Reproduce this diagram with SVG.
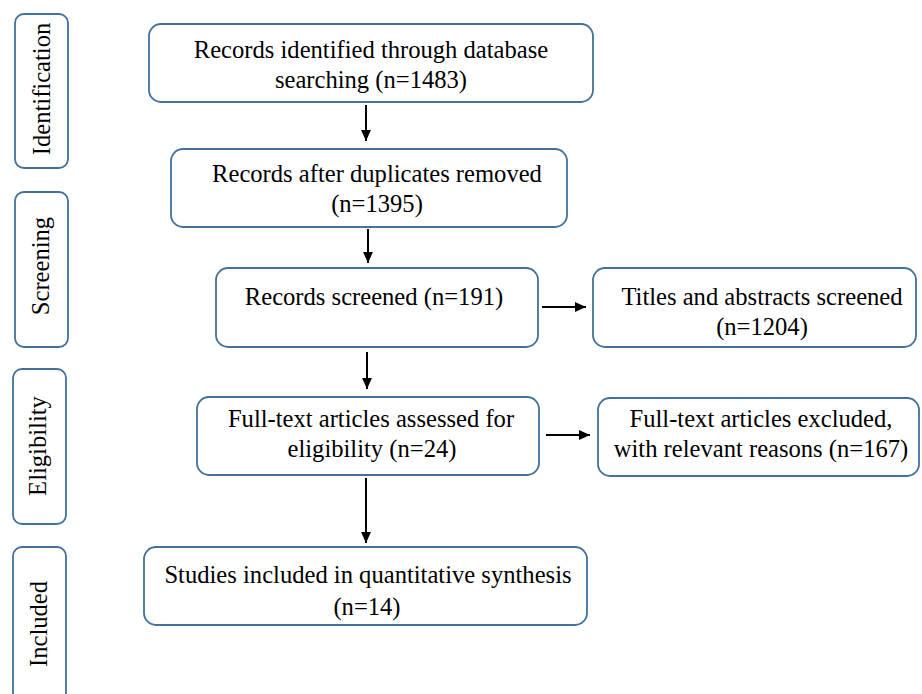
<svg xmlns="http://www.w3.org/2000/svg" width="922" height="694" viewBox="0 0 922 694">
<style>
.box{fill:#ffffff;stroke:#41719C;stroke-width:1.8}
.c{stroke:#000;stroke-width:2;fill:none;marker-end:url(#ah)}
</style>
<defs>
<marker id="ah" markerUnits="userSpaceOnUse" markerWidth="11" markerHeight="11" viewBox="0 0 10 10" refX="10" refY="5" orient="auto">
<path d="M0,0.5 L10,5 L0,9.5 Z" fill="#000"/>
</marker>
</defs>
<rect width="922" height="694" fill="#ffffff"/>
<g font-family="Liberation Serif, Times New Roman, serif" font-size="24.6" fill="#000" text-anchor="middle">
<g id="stage-identification">
<rect class="box" x="15" y="14" width="53" height="154" rx="9"/>
<text transform="translate(50,89) rotate(-90)">Identification</text>
</g>
<g id="stage-screening">
<rect class="box" x="15" y="192" width="53" height="155" rx="9"/>
<text transform="translate(49,266) rotate(-90)">Screening</text>
</g>
<g id="stage-eligibility">
<rect class="box" x="13" y="369" width="53" height="155" rx="9"/>
<text transform="translate(46,446) rotate(-90)">Eligibility</text>
</g>
<g id="stage-included">
<rect class="box" x="13" y="547" width="53" height="170" rx="9"/>
<text transform="translate(47,624) rotate(-90)">Included</text>
</g>
<g id="identified">
<rect class="box" x="149" y="24" width="444" height="78" rx="12"/>
<text x="371" y="58">Records identified through database</text>
<text x="371" y="88">searching (n=1483)</text>
</g>
<g id="duplicates">
<rect class="box" x="171" y="149" width="396" height="78" rx="12"/>
<text x="377" y="182">Records after duplicates removed</text>
<text x="377" y="212">(n=1395)</text>
</g>
<g id="screened">
<rect class="box" x="216" y="268" width="322" height="79" rx="12"/>
<text x="374" y="305">Records screened (n=191)</text>
</g>
<g id="titles">
<rect class="box" x="593" y="268" width="323" height="79" rx="12"/>
<text x="762" y="305">Titles and abstracts screened</text>
<text x="762" y="335">(n=1204)</text>
</g>
<g id="fulltext">
<rect class="box" x="197" y="397" width="342" height="78" rx="12"/>
<text x="371" y="427">Full-text articles assessed for</text>
<text x="372" y="457">eligibility (n=24)</text>
</g>
<g id="excluded">
<rect class="box" x="598" y="398" width="321" height="78" rx="12"/>
<text x="761" y="427">Full-text articles excluded,</text>
<text x="761" y="457">with relevant reasons (n=167)</text>
</g>
<g id="included">
<rect class="box" x="144" y="547" width="443" height="78" rx="12"/>
<text x="368" y="583">Studies included in quantitative synthesis</text>
<text x="367" y="615">(n=14)</text>
</g>
</g>
<g id="connectors">
<line class="c" x1="366" y1="105" x2="366" y2="141"/>
<line class="c" x1="368" y1="229" x2="368" y2="263"/>
<line class="c" x1="367" y1="352" x2="367" y2="389"/>
<line class="c" x1="366" y1="478" x2="366" y2="543"/>
<line class="c" x1="542" y1="307" x2="586" y2="307"/>
<line class="c" x1="546" y1="435" x2="590" y2="435"/>
</g>
</svg>
